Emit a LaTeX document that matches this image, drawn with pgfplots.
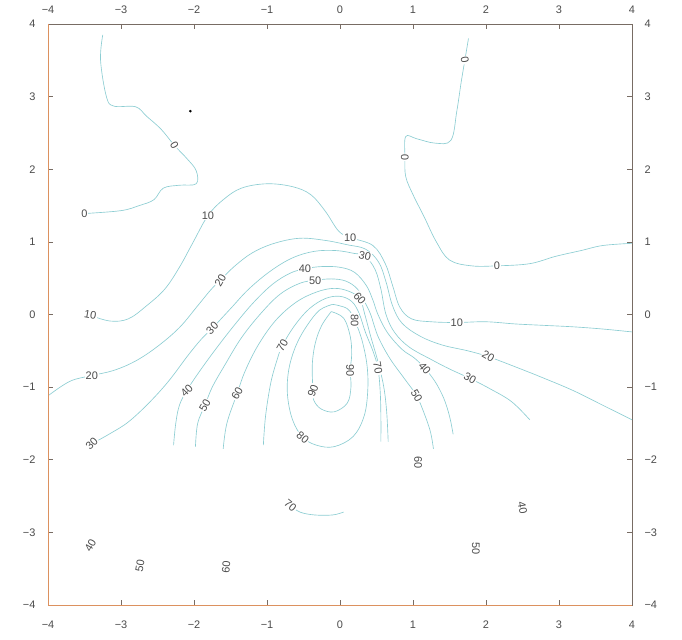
\documentclass[border=0pt]{standalone}
\usepackage{pgfplots}
\pgfplotsset{compat=1.18}
\usepackage{fontspec}
\setmainfont{Liberation Sans}
\definecolor{cline}{RGB}{140,205,210}
\definecolor{frame}{RGB}{120,108,100}
\definecolor{frameo}{RGB}{220,145,95}
\definecolor{lab}{RGB}{75,75,75}
\tikzset{lbl/.style={fill=white, inner sep=0.8pt, text=lab, font=\fontsize{11}{12}\selectfont}}
\pgfplotsset{cl/.style={cline, solid, no markers, line width=0.65pt, smooth, tension=0.6}}
\begin{document}
\begin{tikzpicture}
\pgfplotsset{base/.style={
  scale only axis, width=584bp, height=581bp,
  xmin=-4, xmax=4, ymin=-4, ymax=4,
  xtick={-4,...,4}, ytick={-4,...,4},
  xticklabels={−4,−3,−2,−1,0,1,2,3,4},
  yticklabels={−4,−3,−2,−1,0,1,2,3,4},
  tick align=inside, major tick length=5bp,
  tick style={frame, line width=0.6pt},
  axis line style={frame, line width=0.7pt},
  tick label style={font=\fontsize{11}{12}\selectfont, text=lab},
}}
\begin{axis}[base, set layers,
  xticklabel style={yshift=-12bp}, yticklabel style={xshift=-9bp},
]
% contour 0 (upper left)
\addplot[cl] coordinates {(-3.5,1.39) (-3.0,1.43) (-2.75,1.5) (-2.55,1.58) (-2.42,1.74) (-2.2,1.78) (-1.97,1.8) (-1.97,1.98) (-2.1,2.15) (-2.27,2.33) (-2.45,2.55) (-2.65,2.73) (-2.8,2.86) (-3.1,2.87) (-3.2,3.0) (-3.28,3.5) (-3.25,3.85)};
% contour 0 (upper right)
\addplot[cl] coordinates {(4,0.98) (3.6,0.95) (3.3,0.88) (2.95,0.8) (2.6,0.7) (2.15,0.67) (1.8,0.67) (1.5,0.75) (1.32,1.0) (1.15,1.35) (1.0,1.65) (0.9,1.9) (0.89,2.16) (0.9,2.45) (1.05,2.42) (1.3,2.36) (1.52,2.4) (1.6,2.8) (1.66,3.2) (1.71,3.5) (1.76,3.8)};
% contour 10
\addplot[cl] coordinates {(-3.42,-0.01) (-3.15,-0.09) (-2.9,-0.06) (-2.65,0.12) (-2.4,0.35) (-2.2,0.65) (-2.02,0.98) (-1.81,1.36) (-1.6,1.58) (-1.35,1.74) (-1.0,1.8) (-0.65,1.76) (-0.4,1.65) (-0.2,1.42) (-0.02,1.15) (0.14,1.06) (0.45,0.95) (0.62,0.7) (0.72,0.4) (0.82,0.1) (0.98,-0.06) (1.25,-0.1) (1.6,-0.11) (2.0,-0.1) (2.4,-0.13) (2.8,-0.15) (3.2,-0.17) (3.6,-0.2) (4,-0.24)};
% contour 20
\addplot[cl] coordinates {(-4,-1.12) (-3.7,-0.92) (-3.4,-0.84) (-3.1,-0.77) (-2.8,-0.64) (-2.5,-0.44) (-2.2,-0.18) (-1.95,0.12) (-1.77,0.34) (-1.64,0.47) (-1.45,0.66) (-1.2,0.85) (-0.9,0.98) (-0.55,1.05) (-0.2,1.02) (0.1,0.96) (0.35,0.9) (0.53,0.72) (0.63,0.45) (0.72,0.12) (0.85,-0.12) (1.1,-0.3) (1.4,-0.42) (1.75,-0.5) (2.03,-0.58) (2.4,-0.72) (2.8,-0.88) (3.2,-1.05) (3.6,-1.25) (4,-1.45)};
% contour 30
\addplot[cl] coordinates {(-3.4,-1.78) (-3.15,-1.64) (-2.9,-1.48) (-2.62,-1.22) (-2.35,-0.92) (-2.08,-0.56) (-1.9,-0.34) (-1.75,-0.19) (-1.5,0.08) (-1.25,0.35) (-0.95,0.6) (-0.65,0.78) (-0.35,0.87) (-0.05,0.88) (0.2,0.84) (0.34,0.81) (0.48,0.62) (0.56,0.35) (0.63,0.0) (0.75,-0.25) (0.95,-0.45) (1.25,-0.62) (1.5,-0.75) (1.78,-0.88) (2.05,-1.02) (2.35,-1.2) (2.6,-1.45)};
% contour 40
\addplot[cl] coordinates {(-2.28,-1.8) (-2.25,-1.5) (-2.2,-1.25) (-2.1,-1.05) (-1.95,-0.82) (-1.72,-0.5) (-1.45,-0.15) (-1.18,0.17) (-0.92,0.42) (-0.68,0.57) (-0.48,0.63) (-0.25,0.66) (0.0,0.65) (0.2,0.58) (0.36,0.4) (0.45,0.2) (0.52,0.0) (0.65,-0.25) (0.85,-0.48) (1.02,-0.6) (1.16,-0.74) (1.3,-0.92) (1.42,-1.15) (1.5,-1.4) (1.55,-1.65)};
% contour 50
\addplot[cl] coordinates {(-1.98,-1.82) (-1.95,-1.5) (-1.85,-1.25) (-1.75,-1.0) (-1.58,-0.7) (-1.35,-0.32) (-1.08,0.02) (-0.82,0.28) (-0.55,0.43) (-0.34,0.47) (-0.12,0.49) (0.08,0.46) (0.24,0.35) (0.34,0.17) (0.42,0.0) (0.52,-0.3) (0.68,-0.6) (0.88,-0.88) (1.05,-1.12) (1.16,-1.38) (1.24,-1.62) (1.28,-1.85)};
% contour 60
\addplot[cl] coordinates {(-1.6,-1.85) (-1.55,-1.5) (-1.41,-1.09) (-1.3,-0.78) (-1.12,-0.42) (-0.88,-0.08) (-0.6,0.17) (-0.32,0.31) (-0.08,0.36) (0.12,0.32) (0.27,0.22) (0.34,0.0) (0.42,-0.3) (0.52,-0.65) (0.6,-1.0) (0.64,-1.35) (0.66,-1.75)};
% contour 70
\addplot[cl] coordinates {(-1.05,-1.8) (-1.02,-1.4) (-0.95,-0.95) (-0.87,-0.65) (-0.79,-0.43) (-0.62,-0.15) (-0.42,0.08) (-0.2,0.22) (0.0,0.25) (0.16,0.18) (0.26,0.02) (0.35,-0.25) (0.45,-0.5) (0.52,-0.74) (0.55,-1.05) (0.56,-1.4) (0.56,-1.75)};
% contour 80 (closed)
\addplot[cl] coordinates {(-0.1,0.14) (0.1,0.08) (0.2,-0.08) (0.3,-0.35) (0.37,-0.7) (0.38,-1.05) (0.33,-1.4) (0.18,-1.68) (-0.08,-1.82) (-0.32,-1.8) (-0.51,-1.69) (-0.65,-1.45) (-0.72,-1.1) (-0.7,-0.75) (-0.6,-0.42) (-0.45,-0.15) (-0.28,0.06) (-0.1,0.14)};
% contour 90 (closed)
\addplot[cl] coordinates {(-0.12,0.04) (0.05,-0.05) (0.14,-0.3) (0.16,-0.55) (0.14,-0.77) (0.15,-1.0) (0.1,-1.22) (-0.08,-1.34) (-0.26,-1.3) (-0.36,-1.18) (-0.37,-1.05) (-0.38,-0.7) (-0.34,-0.4) (-0.25,-0.15) (-0.12,0.04)};
% contour 70 (lower system, visible part)
\addplot[cl] coordinates {(-0.68,-2.63) (-0.55,-2.72) (-0.35,-2.76) (-0.1,-2.76) (0.05,-2.72)};
% dot
\addplot[only marks, mark=*, mark size=1.1pt, draw=black, fill=black] coordinates {(-2.05,2.8)};
% contour labels
\begin{pgfonlayer}{axis foreground}
\node[lbl] at (axis cs:-3.5,1.39) {0};
\node[lbl, rotate=-60] at (axis cs:-2.27,2.33) {0};
\node[lbl, rotate=-80] at (axis cs:1.71,3.5) {0};
\node[lbl, rotate=90] at (axis cs:0.89,2.16) {0};
\node[lbl] at (axis cs:2.15,0.67) {0};
\node[lbl] at (axis cs:-1.81,1.36) {10};
\node[lbl, rotate=-10] at (axis cs:-3.42,-0.01) {10};
\node[lbl] at (axis cs:0.14,1.06) {10};
\node[lbl] at (axis cs:1.6,-0.11) {10};
\node[lbl, rotate=60] at (axis cs:-1.64,0.47) {20};
\node[lbl] at (axis cs:-3.4,-0.84) {20};
\node[lbl, rotate=-30] at (axis cs:2.03,-0.58) {20};
\node[lbl, rotate=45] at (axis cs:-1.75,-0.19) {30};
\node[lbl, rotate=45] at (axis cs:-3.4,-1.78) {30};
\node[lbl, rotate=-12] at (axis cs:0.34,0.81) {30};
\node[lbl, rotate=-30] at (axis cs:1.78,-0.88) {30};
\node[lbl] at (axis cs:-0.48,0.63) {40};
\node[lbl, rotate=45] at (axis cs:-2.1,-1.05) {40};
\node[lbl, rotate=-50] at (axis cs:1.16,-0.74) {40};
\node[lbl, rotate=60] at (axis cs:-3.42,-3.18) {40};
\node[lbl, rotate=-80] at (axis cs:2.5,-2.66) {40};
\node[lbl] at (axis cs:-0.34,0.47) {50};
\node[lbl, rotate=60] at (axis cs:-1.85,-1.25) {50};
\node[lbl, rotate=-60] at (axis cs:1.05,-1.12) {50};
\node[lbl, rotate=80] at (axis cs:-2.74,-3.46) {50};
\node[lbl, rotate=-90] at (axis cs:1.86,-3.22) {50};
\node[lbl, rotate=-50] at (axis cs:0.27,0.22) {60};
\node[lbl, rotate=60] at (axis cs:-1.41,-1.09) {60};
\node[lbl, rotate=-90] at (axis cs:1.07,-2.04) {60};
\node[lbl, rotate=85] at (axis cs:-1.56,-3.48) {60};
\node[lbl, rotate=60] at (axis cs:-0.79,-0.43) {70};
\node[lbl, rotate=-80] at (axis cs:0.52,-0.74) {70};
\node[lbl, rotate=-40] at (axis cs:-0.68,-2.63) {70};
\node[lbl, rotate=-90] at (axis cs:0.2,-0.08) {80};
\node[lbl, rotate=-40] at (axis cs:-0.51,-1.69) {80};
\node[lbl, rotate=70] at (axis cs:-0.37,-1.05) {90};
\node[lbl, rotate=-90] at (axis cs:0.14,-0.77) {90};
% tinted left and bottom frame edges
\draw[frameo, line width=0.8pt] (rel axis cs:0,1) -- (rel axis cs:0,0) -- (rel axis cs:1,0);
\end{pgfonlayer}
\end{axis}
\begin{axis}[base,
  xticklabel pos=upper, yticklabel pos=right,
  xticklabel style={yshift=7bp}, yticklabel style={xshift=9bp},
  axis line style={draw=none}, tick style={draw=none},
]
\end{axis}
\path (current axis.south west) ++(-48bp,-34bp) coordinate (bbA);
\path (current axis.north east) ++(50bp,24bp) coordinate (bbB);
\path (bbA) rectangle (bbB);
\end{tikzpicture}
\end{document}
